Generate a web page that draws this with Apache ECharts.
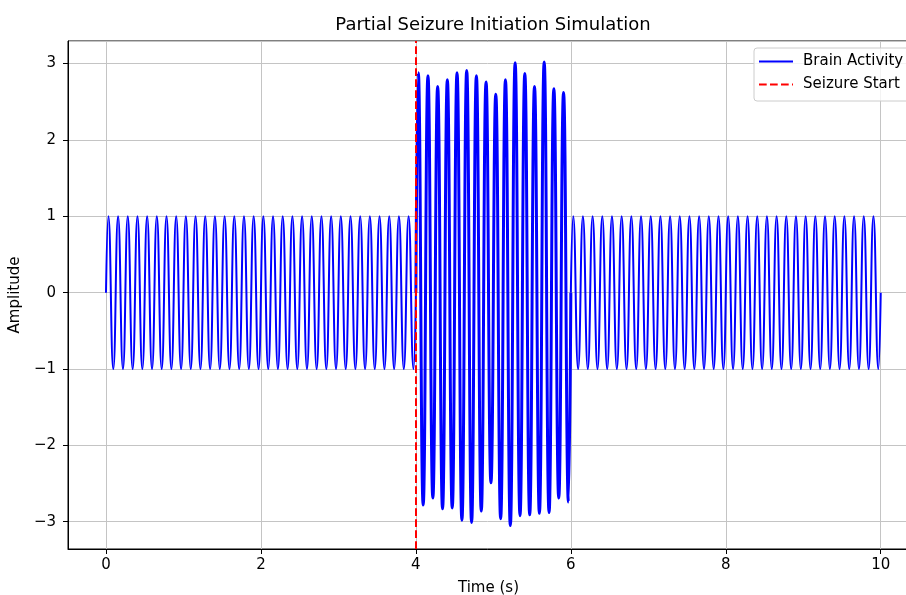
<!DOCTYPE html>
<html>
<head>
<meta charset="utf-8">
<title>Partial Seizure Initiation Simulation</title>
<script src="https://cdn.jsdelivr.net/npm/echarts@6/dist/echarts.min.js"></script>
<style>
  html, body { margin: 0; padding: 0; background: #fff; }
  #chart { width: 906px; height: 595px; }
</style>
</head>
<body>
<div id="chart"></div>
<script>
// extrema of the signal (8 Hz, peaks and troughs)
const timeBefore = [0,
  0.031, 0.094, 0.156, 0.219, 0.281, 0.344, 0.406, 0.469, 0.531, 0.594, 0.656, 0.719, 0.781, 0.844, 0.906, 0.969,
  1.031, 1.094, 1.156, 1.219, 1.281, 1.344, 1.406, 1.469, 1.531, 1.594, 1.656, 1.719, 1.781, 1.844, 1.906, 1.969,
  2.031, 2.094, 2.156, 2.219, 2.281, 2.344, 2.406, 2.469, 2.531, 2.594, 2.656, 2.719, 2.781, 2.844, 2.906, 2.969,
  3.031, 3.094, 3.156, 3.219, 3.281, 3.344, 3.406, 3.469, 3.531, 3.594, 3.656, 3.719, 3.781, 3.844, 3.906, 3.969,
  4];
const activityBefore = [0,
  1, -1, 1, -1, 1, -1, 1, -1, 1, -1, 1, -1, 1, -1, 1, -1,
  1, -1, 1, -1, 1, -1, 1, -1, 1, -1, 1, -1, 1, -1, 1, -1,
  1, -1, 1, -1, 1, -1, 1, -1, 1, -1, 1, -1, 1, -1, 1, -1,
  1, -1, 1, -1, 1, -1, 1, -1, 1, -1, 1, -1, 1, -1, 1, -1,
  0];

const timeSeizure = [4,
  4.031, 4.094, 4.156, 4.219, 4.281, 4.344, 4.406, 4.469, 4.531, 4.594, 4.656, 4.719, 4.781, 4.844, 4.906, 4.969,
  5.031, 5.094, 5.156, 5.219, 5.281, 5.344, 5.406, 5.469, 5.531, 5.594, 5.656, 5.719, 5.781, 5.844, 5.906, 5.969,
  6];
const activitySeizure = [0,
  2.88, -2.78, 2.84, -2.69, 2.70, -2.83, 2.79, -2.82, 2.88, -2.98, 2.91, -3.01, 2.84, -2.86, 2.76, -2.49,
  2.60, -2.96, 2.79, -3.05, 3.01, -2.92, 2.87, -2.91, 2.70, -2.89, 3.02, -2.88, 2.67, -2.69, 2.62, -2.74,
  0];

const timeAfter = [6,
  6.031, 6.094, 6.156, 6.219, 6.281, 6.344, 6.406, 6.469, 6.531, 6.594, 6.656, 6.719, 6.781, 6.844, 6.906, 6.969,
  7.031, 7.094, 7.156, 7.219, 7.281, 7.344, 7.406, 7.469, 7.531, 7.594, 7.656, 7.719, 7.781, 7.844, 7.906, 7.969,
  8.031, 8.094, 8.156, 8.219, 8.281, 8.344, 8.406, 8.469, 8.531, 8.594, 8.656, 8.719, 8.781, 8.844, 8.906, 8.969,
  9.031, 9.094, 9.156, 9.219, 9.281, 9.344, 9.406, 9.469, 9.531, 9.594, 9.656, 9.719, 9.781, 9.844, 9.906, 9.969,
  10];
const activityAfter = [0,
  1, -1, 1, -1, 1, -1, 1, -1, 1, -1, 1, -1, 1, -1, 1, -1,
  1, -1, 1, -1, 1, -1, 1, -1, 1, -1, 1, -1, 1, -1, 1, -1,
  1, -1, 1, -1, 1, -1, 1, -1, 1, -1, 1, -1, 1, -1, 1, -1,
  1, -1, 1, -1, 1, -1, 1, -1, 1, -1, 1, -1, 1, -1, 1, -1,
  0];

const seizureStart = 4;

const FONT = "DejaVu Sans";
const BLUE = "#0000ff";
const RED = "#ff0000";

const pairs = (xs, ys) => xs.map((x, i) => [x, ys[i]]);
const minus = (v) => String(v).replace("-", "\u2212");

const chart = echarts.init(document.getElementById("chart"));

function activitySeries(data, width) {
  return {
    name: "Brain Activity",
    type: "line",
    data: data,
    symbol: "none",
    showSymbol: false,
    smooth: 0.5,
    lineStyle: { color: BLUE, width: width },
    itemStyle: { color: BLUE },
    z: 2,
  };
}

const axisCommon = {
  type: "value",
  axisLine: { show: true, onZero: false, lineStyle: { color: "#000", width: 1 } },
  axisTick: { show: true, inside: false, length: 5, lineStyle: { color: "#000" } },
  splitLine: { show: true, lineStyle: { color: "#c4c4c4", width: 1 } },
  axisLabel: {
    color: "#000",
    fontFamily: FONT,
    fontSize: 15,
    showMinLabel: false,
    showMaxLabel: false,
    formatter: minus,
  },
  nameLocation: "middle",
  nameTextStyle: { color: "#000", fontFamily: FONT, fontSize: 15 },
};

chart.setOption({
  animation: false,
  backgroundColor: "#fff",
  title: {
    text: "Partial Seizure Initiation Simulation",
    left: 488,
    textAlign: "center",
    top: 11,
    textStyle: { fontFamily: FONT, fontSize: 18, fontWeight: "normal", color: "#000" },
  },
  legend: {
    data: ["Brain Activity", "Seizure Start"],
    orient: "vertical",
    left: 754,
    top: 48,
    itemWidth: 34,
    itemHeight: 14,
    itemGap: 8,
    padding: [6, 20, 9, 4],
    backgroundColor: "rgba(255,255,255,0.8)",
    borderColor: "#cccccc",
    borderWidth: 1,
    borderRadius: 3,
    itemStyle: { opacity: 0 },
    textStyle: { fontFamily: FONT, fontSize: 15, color: "#000", padding: [0, 0, 0, 5] },
  },
  grid: {
    left: 68,
    top: 41,
    right: -3,
    bottom: 46,
    outerBoundsMode: "none",
    containLabel: false,
    show: true,
    borderColor: "#000",
    borderWidth: 1,
  },
  xAxis: Object.assign({}, axisCommon, {
    min: -0.4905,
    max: 10.365,
    name: "Time (s)",
    nameGap: 32,
    axisLabel: Object.assign({}, axisCommon.axisLabel, { margin: 9 }),
  }),
  yAxis: Object.assign({}, axisCommon, {
    min: -3.357,
    max: 3.296,
    name: "Amplitude",
    nameGap: 43,
    axisLabel: Object.assign({}, axisCommon.axisLabel, { margin: 12 }),
  }),
  series: [
    activitySeries(pairs(timeBefore, activityBefore), 2),
    activitySeries(pairs(timeSeizure, activitySeizure), 3),
    activitySeries(pairs(timeAfter, activityAfter), 2),
    {
      name: "Seizure Start",
      type: "line",
      data: [],
      symbol: "none",
      lineStyle: { color: RED, width: 2, type: [7.7, 3.3] },
      itemStyle: { color: RED },
      markLine: {
        silent: true,
        symbol: "none",
        label: { show: false },
        lineStyle: { color: RED, width: 2, type: [7.7, 3.3] },
        data: [{ xAxis: seizureStart }],
      },
      z: 5,
    },
  ],
});
</script>
</body>
</html>
